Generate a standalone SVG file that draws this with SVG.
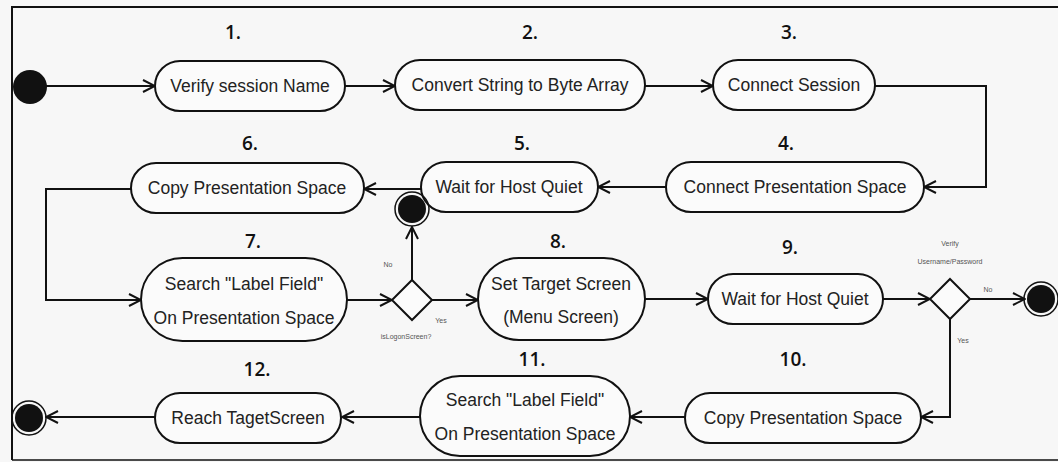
<svg xmlns="http://www.w3.org/2000/svg" width="1058" height="462" viewBox="0 0 1058 462">
<defs>
<marker id="arr" viewBox="0 0 14 14" refX="13" refY="7" markerWidth="14" markerHeight="14" markerUnits="userSpaceOnUse" orient="auto">
<path d="M1,1 L13,7 L1,13" fill="none" stroke="#111" stroke-width="2"/>
</marker>
<style>
.act{fill:#fbfbfb;stroke:#111;stroke-width:2}
.lbl{font-family:"Liberation Sans",Arial,sans-serif;font-size:17.5px;fill:#222;text-anchor:middle}
.num{font-family:"Open Sans","Liberation Sans",sans-serif;font-size:19px;font-weight:600;fill:#111;text-anchor:middle}
.small{font-family:"Liberation Sans",Arial,sans-serif;font-size:7px;fill:#555;text-anchor:middle}
.ln{fill:none;stroke:#111;stroke-width:2;marker-end:url(#arr)}
.dia{fill:#fbfbfb;stroke:#111;stroke-width:2}
.start{fill:#111}
.endo{fill:none;stroke:#111;stroke-width:1.5}
.endi{fill:#111}
</style>
</defs>
<rect x="0" y="0" width="1058" height="462" fill="#f7f7f7"/>
<g id="frame" fill="none" stroke="#111" stroke-width="2">
<path d="M12,460 L12,7 L1058,7"/>
<path d="M12,460 L1058,460" stroke-width="1.5"/>
</g>

<g id="connectors">
<path class="ln" d="M46,86 L155,86"/>
<path class="ln" d="M345,86 L395,86"/>
<path class="ln" d="M645,86 L713,86"/>
<path class="ln" d="M875,86 L986,86 L986,187 L924,187"/>
<path class="ln" d="M666,187 L598,187"/>
<path class="ln" d="M421,189 L364,189"/>
<path class="ln" d="M131,189 L46,189 L46,300 L141,300"/>
<path class="ln" d="M347,300 L392,300"/>
<path class="ln" d="M412,280 L412,227"/>
<path class="ln" d="M432,300 L478,300"/>
<path class="ln" d="M645,299 L708,299"/>
<path class="ln" d="M883,299 L930,299"/>
<path class="ln" d="M970,299 L1025,299"/>
<path class="ln" d="M950,318 L950,417 L921,417"/>
<path class="ln" d="M685,417 L630,417"/>
<path class="ln" d="M420,417 L342,417"/>
<path class="ln" d="M155,417 L46,417"/>
<text class="small" x="388" y="267">No</text>
<text class="small" x="441" y="323">Yes</text>
<text class="small" x="406" y="339">isLogonScreen?</text>
<text class="small" x="950" y="246">Verify</text>
<text class="small" x="950" y="264">Username/Password</text>
<text class="small" x="988" y="292">No</text>
<text class="small" x="963" y="343">Yes</text>
</g>

<g id="start"><circle class="start" cx="30" cy="87" r="17"/></g>

<g id="n1">
<rect class="act" x="155" y="61" width="190" height="50" rx="25"/>
<text class="lbl" x="250" y="92">Verify session Name</text>
<text class="num" x="233" y="39">1.</text>
</g>
<g id="n2">
<rect class="act" x="395" y="60" width="250" height="50" rx="25"/>
<text class="lbl" x="520" y="91">Convert String to Byte Array</text>
<text class="num" x="530" y="39">2.</text>
</g>
<g id="n3">
<rect class="act" x="713" y="60" width="162" height="50" rx="25"/>
<text class="lbl" x="794" y="91">Connect Session</text>
<text class="num" x="789" y="39">3.</text>
</g>
<g id="n4">
<rect class="act" x="666" y="162" width="258" height="50" rx="25"/>
<text class="lbl" x="795" y="193">Connect Presentation Space</text>
<text class="num" x="786" y="150">4.</text>
</g>
<g id="n5">
<rect class="act" x="421" y="162" width="177" height="50" rx="25"/>
<text class="lbl" x="509" y="193">Wait for Host Quiet</text>
<text class="num" x="522" y="150">5.</text>
</g>
<g id="n6">
<rect class="act" x="131" y="163" width="233" height="50" rx="25"/>
<text class="lbl" x="247" y="194">Copy Presentation Space</text>
<text class="num" x="250" y="150">6.</text>
</g>
<g id="n7">
<rect class="act" x="141" y="258" width="206" height="83" rx="41.5"/>
<text class="lbl" x="244" y="290">Search "Label Field"</text>
<text class="lbl" x="244" y="324">On Presentation Space</text>
<text class="num" x="253" y="248">7.</text>
</g>
<g id="d1"><path class="dia" d="M412,280 L432,300 L412,320 L392,300 Z"/></g>
<g id="end1">
<circle class="endo" cx="412" cy="209" r="17"/>
<circle class="endi" cx="412" cy="209" r="14"/>
</g>
<g id="n8">
<rect class="act" x="478" y="258" width="167" height="82" rx="41"/>
<text class="lbl" x="561" y="290">Set Target Screen</text>
<text class="lbl" x="561" y="323">(Menu Screen)</text>
<text class="num" x="558" y="248">8.</text>
</g>
<g id="n9">
<rect class="act" x="708" y="274" width="175" height="50" rx="25"/>
<text class="lbl" x="795" y="305">Wait for Host Quiet</text>
<text class="num" x="790" y="254">9.</text>
</g>
<g id="d2"><path class="dia" d="M950,279 L970,299 L950,319 L930,299 Z"/></g>
<g id="end2">
<circle class="endo" cx="1041" cy="299" r="17"/>
<circle class="endi" cx="1041" cy="299" r="14"/>
</g>
<g id="n10">
<rect class="act" x="685" y="393" width="236" height="50" rx="25"/>
<text class="lbl" x="803" y="424">Copy Presentation Space</text>
<text class="num" x="793" y="366">10.</text>
</g>
<g id="n11">
<rect class="act" x="420" y="376" width="210" height="80" rx="40"/>
<text class="lbl" x="525" y="406">Search "Label Field"</text>
<text class="lbl" x="525" y="440">On Presentation Space</text>
<text class="num" x="532" y="366">11.</text>
</g>
<g id="n12">
<rect class="act" x="155" y="393" width="186" height="50" rx="25"/>
<text class="lbl" x="248" y="424">Reach TagetScreen</text>
<text class="num" x="257" y="376">12.</text>
</g>
<g id="end3">
<circle class="endo" cx="29" cy="418" r="17"/>
<circle class="endi" cx="29" cy="418" r="14"/>
</g>
</svg>
